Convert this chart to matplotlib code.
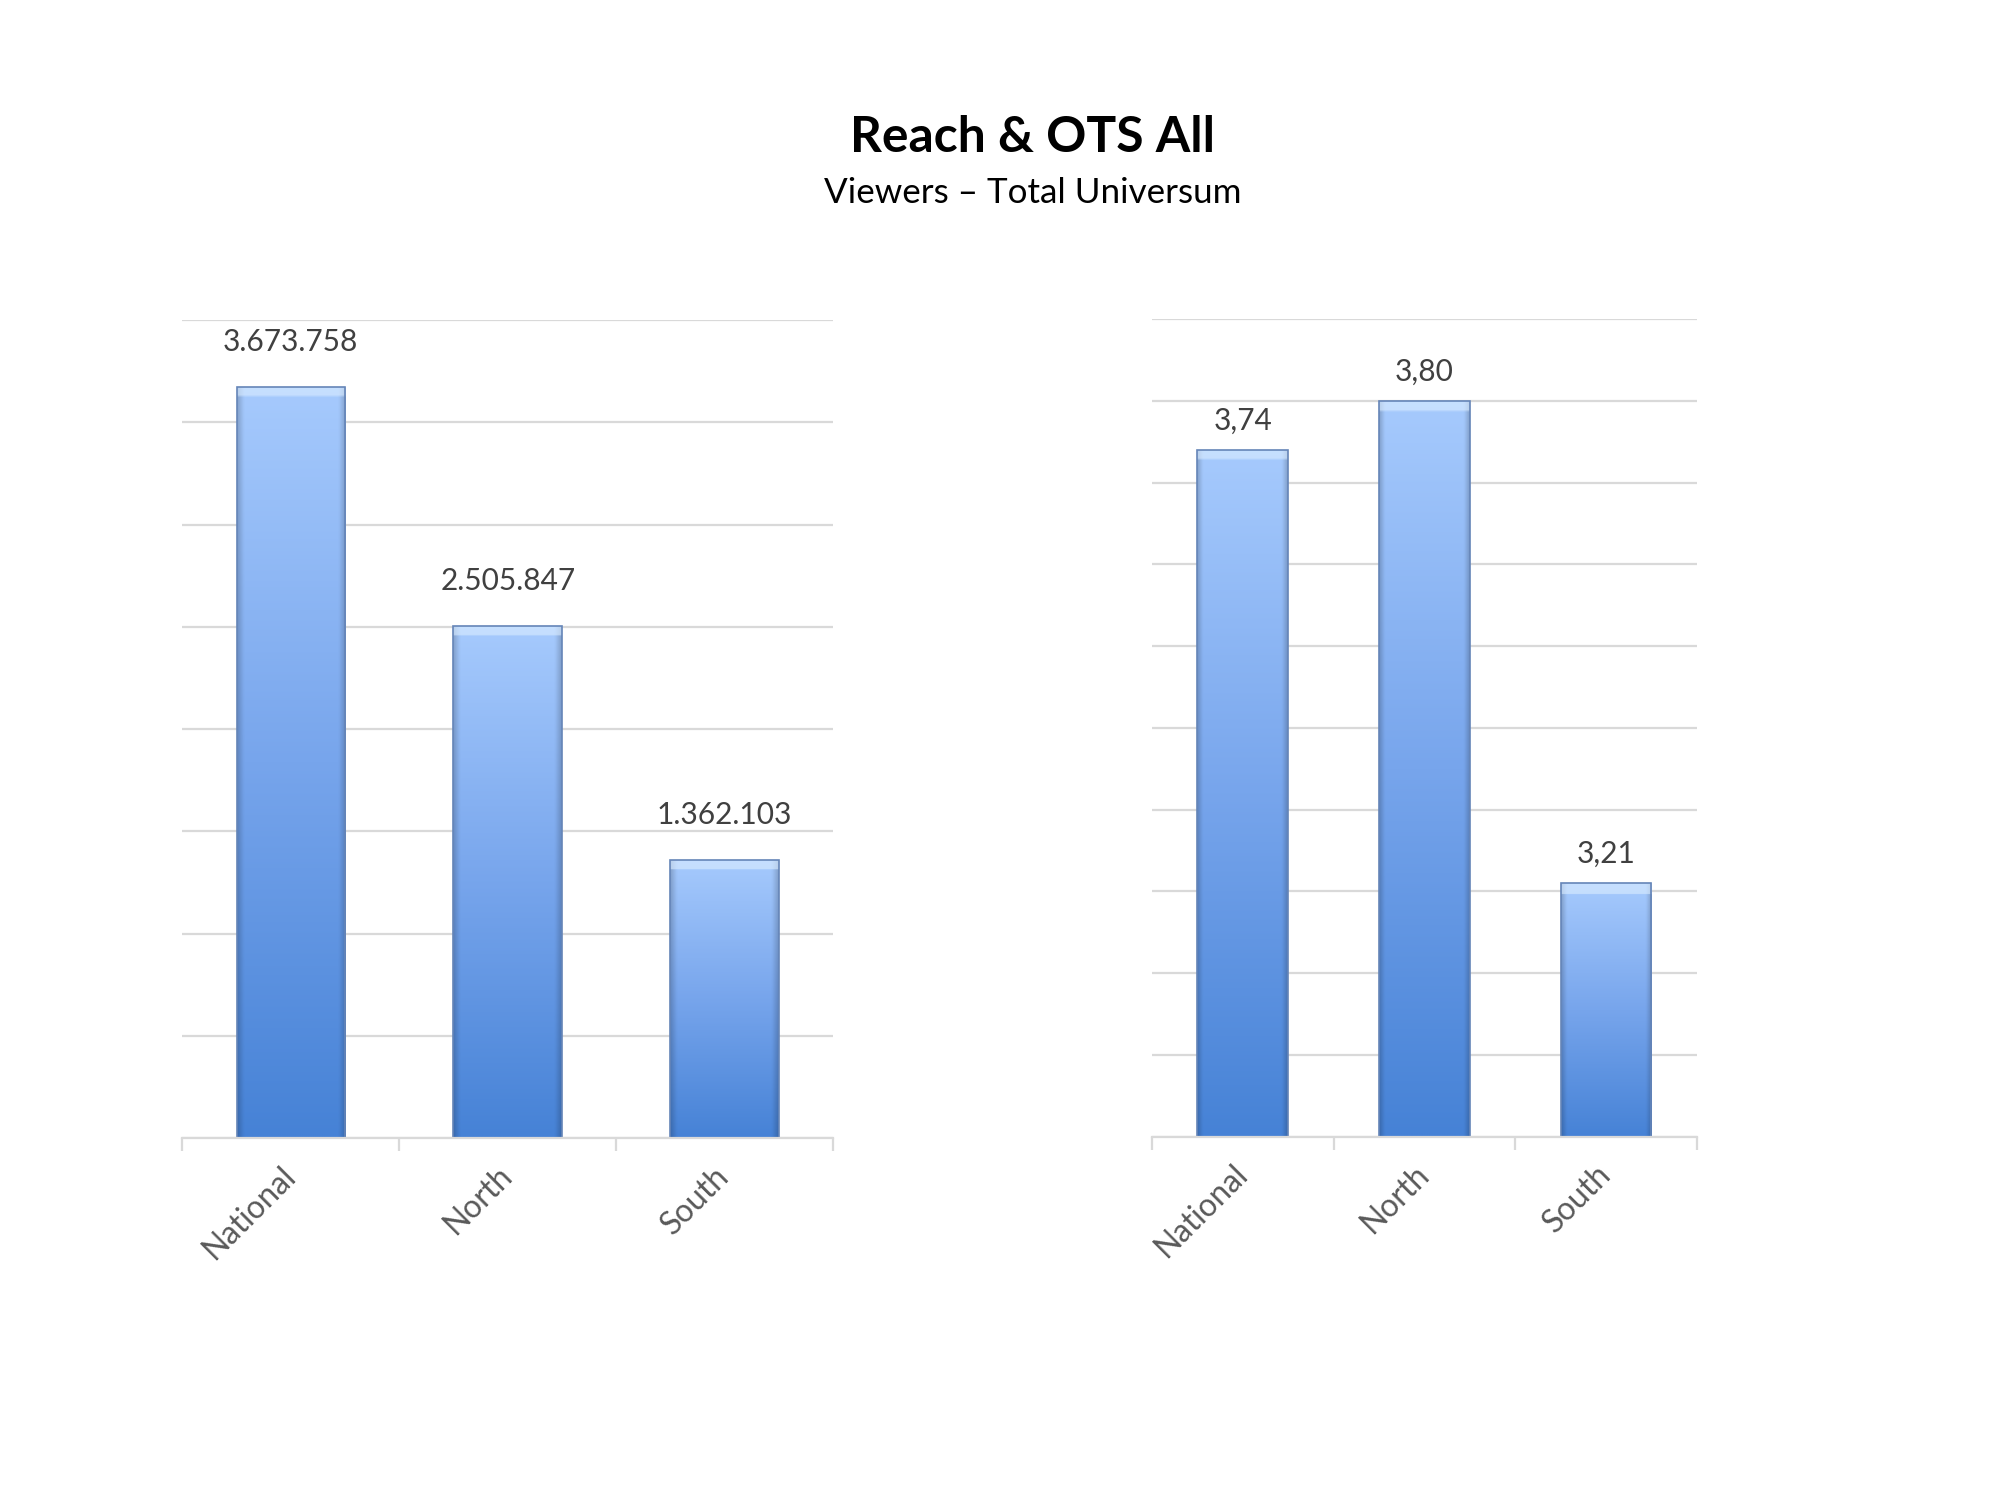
import numpy as np
import matplotlib
matplotlib.use('Agg')
import matplotlib.pyplot as plt
from matplotlib.colors import LinearSegmentedColormap

# data
categories = ['National', 'North', 'South']
reach = [3673758, 2505847, 1362103]
reach_labels = ['3.673.758', '2.505.847', '1.362.103']
ots = [3.74, 3.80, 3.21]
ots_labels = ['3,74', '3,80', '3,21']

plt.rcParams['font.family'] = ['Lato', 'DejaVu Sans']

grid_col = '#d9d9d9'
text_col = '#404040'
tick_col = '#595959'

fig = plt.figure(figsize=(20, 14.99), dpi=100)
ax1 = fig.add_axes([0.0912, 0.2408, 0.3253, 0.5456])
ax2 = fig.add_axes([0.576, 0.2417, 0.2724, 0.5455])

# gradient: dark blue at bottom -> light blue at top, darker at the sides
cmap = LinearSegmentedColormap.from_list('bar', ['#4682d6', '#77a5ec', '#a6cafd'])


def gradient_bars(ax, values, ymin):
    bars = ax.bar(range(len(values)), values, width=0.5, color='none',
                  edgecolor='#6585b8', linewidth=1.2, zorder=3)
    fig.canvas.draw()
    ylo, yhi = ax.get_ylim()
    ax_px = ax.get_window_extent().height
    for b in bars:
        x0 = b.get_x()
        w = b.get_width()
        top = b.get_height()
        nrows = 300
        t = np.linspace(0, 1, nrows)[:, None]
        img = np.repeat(t, 60, axis=1)
        rgb = cmap(img)[..., :3]
        # darker edges
        cols = np.linspace(0, 1, 60)
        edge = np.clip(np.minimum(cols, 1 - cols) / 0.06, 0, 1)
        rgb = rgb * (0.82 + 0.18 * edge)[None, :, None]
        # top bevel highlight
        bar_px = (top - ymin) / (yhi - ylo) * ax_px
        nb = max(2, int(nrows * 11 / bar_px))
        rgb[-nb:, :, :] = rgb[-nb:, :, :] * 0.4 + np.array([0.86, 0.93, 1.0]) * 0.6
        im = ax.imshow(rgb, extent=[x0, x0 + w, ymin, top], origin='lower',
                       aspect='auto', zorder=2, interpolation='bilinear')
        im.set_clip_path(b)
    return bars


def style(ax):
    ax.set_xlim(-0.5, len(categories) - 0.5)
    for s in ['left', 'right', 'top']:
        ax.spines[s].set_visible(False)
    ax.spines['bottom'].set_color(grid_col)
    ax.spines['bottom'].set_linewidth(1.6)
    ax.spines['bottom'].set_zorder(4)
    ax.yaxis.grid(True, color=grid_col, linewidth=1.6, zorder=0)
    ax.set_axisbelow(True)
    ax.tick_params(axis='y', length=0, labelleft=False)
    ax.set_xticks(range(len(categories)))
    ax.set_xticklabels(categories, rotation=45, ha='right', va='center',
                       rotation_mode='anchor', fontsize=22.8, color=tick_col)
    ax.tick_params(axis='x', which='major', length=0, pad=24)
    ax.set_xticks(np.arange(-0.5, len(categories), 1), minor=True)
    ax.tick_params(axis='x', which='minor', length=9, width=1.6, color=grid_col)


# left chart: reach
ax1.set_ylim(0, 4000000)
ax1.set_yticks(np.arange(0, 4000001, 500000))
style(ax1)
gradient_bars(ax1, reach, 0)
for i, v in enumerate(reach):
    ax1.annotate(reach_labels[i], (i, v), xytext=(0, 32), textcoords='offset points',
                 ha='center', va='center', fontsize=21.5, color=text_col)

# right chart: OTS
ax2.set_ylim(2.9, 3.9)
ax2.set_yticks(np.arange(2.9, 3.91, 0.1))
style(ax2)
gradient_bars(ax2, ots, 2.9)
for i, v in enumerate(ots):
    ax2.annotate(ots_labels[i], (i, v), xytext=(0, 21), textcoords='offset points',
                 ha='center', va='center', fontsize=21.5, color=text_col)

fig.text(0.5165, 0.8985, 'Reach & OTS All', ha='center', va='baseline',
         fontsize=35.8, fontweight='bold', color='black')
fig.text(0.5165, 0.8648, 'Viewers – Total Universum', ha='center', va='baseline',
         fontsize=25.2, color='black')

fig.savefig('out.png', dpi=100, facecolor='white')
